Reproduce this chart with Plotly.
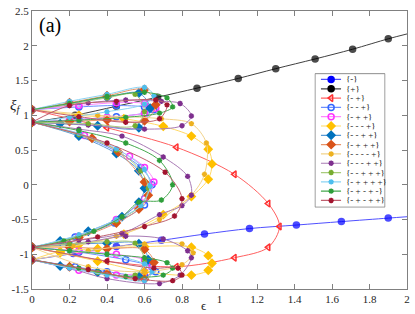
import plotly.graph_objects as go

N = None
# ---------------- data (eps, xi); None separates branches ----------------
# {-}
m_eps = [0, 0.22, 0.45, 0.69, 0.92, 1.16, 1.41, 1.65, 1.9, 2.0]
m_xi = [-1.08, -0.99, -0.89, -0.8, -0.71, -0.63, -0.58, -0.53, -0.48, -0.46]
# {+}
p_eps = [0, 0.23, 0.45, 0.67, 0.88, 1.1, 1.3, 1.51, 1.71, 1.9, 2.0]
p_xi = [0.9, 1.0, 1.13, 1.26, 1.39, 1.53, 1.67, 1.81, 1.95, 2.1, 2.17]
# {- +}
mp_eps = [0, 0.4, 0.77, 1.08, 1.26, 1.32, 1.26, 1.08, 0.77, 0.4, 0]
mp_xi = [1.08, 0.82, 0.54, 0.15, -0.27, -0.6, -0.9, -1.05, -1.18, -1.1, -0.9]
# {- - +}
mmp_eps = [0, 0.25, 0.45, 0.6, 0.65, 0.6, 0.45, 0.25, 0, N,
           0, 0.25, 0.45, 0.58, 0.64, 0.6, 0.44, 0.23, 0, N,
           0, 0.25, 0.5, 0.64, 0.66, 0.6, 0.4, 0.23, 0]
mmp_xi = [1.08, 1.12, 1.14, 1.12, 1.08, 1.03, 0.98, 0.94, 0.9, N,
          0.9, 0.72, 0.48, 0.25, 0.0, -0.29, -0.55, -0.75, -0.9, N,
          -0.9, -0.97, -1.08, -1.18, -1.25, -1.31, -1.25, -1.18, -1.08]
# {- + +}
mpp_eps = [0, 0.25, 0.45, 0.6, 0.66, 0.6, 0.4, 0.2, 0, N,
           0, 0.28, 0.52, 0.6, 0.65, 0.6, 0.45, 0.25, 0, N,
           0, 0.25, 0.45, 0.6, 0.64, 0.6, 0.45, 0.25, 0]
mpp_xi = [1.08, 1.14, 1.18, 1.17, 1.1, 1.03, 0.97, 0.93, 0.9, N,
          0.9, 0.71, 0.41, 0.25, 0.04, -0.2, -0.5, -0.74, -0.9, N,
          -0.9, -0.95, -1.0, -1.08, -1.16, -1.25, -1.3, -1.23, -1.08]
# {- - - +}
mmmp_eps = [0, 0.25, 0.49, 0.7, 0.85, 0.94, 0.96, 0.94, 0.85, 0.7, 0.49, 0.25, 0, N,
            0, 0.15, 0.35, 0.6, 0.85, 0.94, 0.96, 0.94, 0.85, 0.6, 0.35, 0.15, 0]
mmmp_xi = [1.08, 1.0, 0.95, 0.84, 0.7, 0.51, 0.3, 0.08, -0.17, -0.43, -0.71, -0.86, -0.9, N,
           -1.08, -0.96, -0.92, -0.89, -0.9, -1.02, -1.13, -1.23, -1.3, -1.25, -1.1, -0.98, -0.9]
# {- - + +}
mmpp_eps = [0, 0.2, 0.4, 0.57, 0.63, 0.57, 0.35, 0.15, 0, N,
            0, 0.25, 0.45, 0.57, 0.6, 0.57, 0.48, 0.3, 0.15, 0, N,
            0, 0.2, 0.4, 0.57, 0.62, 0.57, 0.35, 0.15, 0]
mmpp_xi = [1.08, 1.17, 1.26, 1.32, 1.1, 0.82, 0.85, 0.88, 0.9, N,
           0.9, 0.7, 0.45, 0.2, -0.05, -0.25, -0.46, -0.67, -0.81, -0.9, N,
           -0.9, -0.86, -0.84, -0.85, -1.08, -1.32, -1.26, -1.17, -1.08]
# {- + + +}
mppp_eps = [0, 0.2, 0.4, 0.6, 0.66, 0.6, 0.4, 0.2, 0, N,
            0, 0.32, 0.46, 0.6, 0.62, 0.57, 0.45, 0.25, 0, N,
            0, 0.2, 0.4, 0.6, 0.65, 0.6, 0.4, 0.2, 0]
mppp_xi = [1.08, 1.18, 1.28, 1.37, 1.15, 0.92, 0.93, 0.91, 0.9, N,
           0.9, 0.67, 0.47, 0.04, -0.15, -0.35, -0.55, -0.76, -0.9, N,
           -0.9, -0.9, -0.92, -0.93, -1.12, -1.36, -1.28, -1.18, -1.08]
# {- - - - +}
mmmmp_eps = [0, 0.35, 0.69, 0.85, 0.93, 0.92, 0.85, 0.68, 0.45, 0.22, 0, N,
             0, 0.3, 0.6, 0.8, 0.86, 0.8, 0.6, 0.3, 0]
mmmmp_xi = [1.08, 1.0, 0.95, 0.88, 0.6, 0.15, -0.15, -0.5, -0.74, -0.88, -0.9, N,
            -1.08, -0.95, -0.85, -0.85, -0.98, -1.15, -1.25, -1.18, -0.9]
# {- - - + +}
mmmpp_eps = [0, 0.3, 0.5, 0.69, 0.79, 0.85, 0.8, 0.6, 0.3, 0, N,
             0, 0.25, 0.48, 0.7, 0.83, 0.85, 0.8, 0.68, 0.48, 0.25, 0, N,
             0, 0.3, 0.5, 0.7, 0.83, 0.85, 0.79, 0.68, 0.4, 0.2, 0]
mmmpp_xi = [1.08, 1.18, 1.22, 1.2, 1.17, 0.99, 0.85, 0.8, 0.86, 0.9, N,
            0.9, 0.8, 0.7, 0.4, 0.12, -0.15, -0.3, -0.43, -0.7, -0.8, -0.9, N,
            -0.9, -0.82, -0.74, -0.78, -0.95, -1.05, -1.3, -1.42, -1.35, -1.2, -1.08]
# {- - + + +}
mmppp_eps = [0, 0.2, 0.4, 0.55, 0.6, 0.55, 0.3, 0, N,
             0, 0.25, 0.45, 0.58, 0.62, 0.58, 0.45, 0.25, 0, N,
             0, 0.2, 0.4, 0.55, 0.6, 0.55, 0.35, 0.2, 0]
mmppp_xi = [1.08, 1.16, 1.25, 1.3, 1.05, 0.85, 0.88, 0.9, N,
            0.9, 0.72, 0.5, 0.2, -0.05, -0.3, -0.52, -0.74, -0.9, N,
            -0.9, -0.85, -0.82, -0.84, -1.1, -1.3, -1.26, -1.18, -1.08]
# {- + + + +}
mpppp_eps = [0, 0.2, 0.4, 0.6, 0.65, 0.6, 0.4, 0.2, 0, N,
             0, 0.25, 0.45, 0.6, 0.63, 0.58, 0.45, 0.25, 0, N,
             0, 0.2, 0.4, 0.6, 0.64, 0.6, 0.4, 0.2, 0]
mpppp_xi = [1.08, 1.2, 1.3, 1.4, 1.28, 1.16, 1.05, 0.97, 0.9, N,
            0.9, 0.74, 0.52, 0.22, -0.02, -0.3, -0.5, -0.72, -0.9, N,
            -0.9, -0.95, -1.0, -1.14, -1.25, -1.38, -1.3, -1.2, -1.08]
# {- + - + -}
mpmpm_eps = [0, 0.2, 0.4, 0.6, 0.72, 0.75, 0.68, 0.5, 0.25, 0, N,
             0, 0.25, 0.5, 0.68, 0.75, 0.69, 0.57, 0.48, 0.33, 0.17, 0, N,
             0, 0.2, 0.4, 0.6, 0.72, 0.75, 0.7, 0.5, 0.25, 0]
mpmpm_xi = [1.08, 1.17, 1.27, 1.33, 1.25, 1.12, 1.03, 0.97, 0.93, 0.9, N,
            0.9, 0.78, 0.6, 0.35, 0.0, -0.22, -0.25, -0.46, -0.67, -0.81, -0.9, N,
            -0.9, -0.95, -1.0, -1.05, -1.12, -1.2, -1.3, -1.32, -1.2, -1.08]
# {- + - + +}
mpmpp_eps = [0, 0.25, 0.5, 0.68, 0.72, 0.66, 0.45, 0.2, 0, N,
             0, 0.4, 0.71, 0.8, 0.76, 0.6, 0.35, 0, N,
             0, 0.4, 0.65, 0.78, 0.8, 0.75, 0.55, 0.3, 0]
mpmpp_xi = [1.08, 0.98, 0.9, 0.95, 1.15, 1.22, 1.2, 1.14, 0.9, N,
            0.9, 0.6, 0.18, -0.2, -0.45, -0.6, -0.75, -0.9, N,
            -0.9, -1.1, -1.2, -1.2, -1.3, -1.38, -1.35, -1.22, -1.08]

# legend labels
labels = ["{-}", "{+}", "{- +}", "{- - +}", "{- + +}", "{- - - +}", "{- - + +}",
          "{- + + +}", "{- - - - +}", "{- - - + +}", "{- - + + +}", "{- + + + +}",
          "{- + - + -}", "{- + - + +}"]

series = [
    (m_eps, m_xi, "circle", "#0000FF", "#5050FF", 6),
    (p_eps, p_xi, "circle", "#000000", "#404040", 6),
    (mp_eps, mp_xi, "triangle-left-open", "#FF3030", "#FF6060", 6),
    (mmp_eps, mmp_xi, "circle-open", "#3366FF", "#6C8EFF", 6),
    (mpp_eps, mpp_xi, "circle-open", "#FF33FF", "#FF88FF", 6),
    (mmmp_eps, mmmp_xi, "diamond", "#FFC000", "#FFD966", 6),
    (mmpp_eps, mmpp_xi, "diamond", "#0072BD", "#5A9BD5", 6),
    (mppp_eps, mppp_xi, "diamond", "#D95319", "#E8956B", 6),
    (mmmmp_eps, mmmmp_xi, "asterisk-open", "#EDB120", "#F2D38A", 4.5),
    (mmmpp_eps, mmmpp_xi, "asterisk-open", "#7E2F8E", "#A97BB5", 4.5),
    (mmppp_eps, mmppp_xi, "asterisk-open", "#77AC30", "#A9CC7D", 4.5),
    (mpppp_eps, mpppp_xi, "asterisk-open", "#4DBEEE", "#8CD4F3", 4.5),
    (mpmpm_eps, mpmpm_xi, "asterisk-open", "#2E9E3A", "#45A84E", 4.5),
    (mpmpp_eps, mpmpp_xi, "asterisk-open", "#A2142F", "#C0606F", 4.5),
]

fig = go.Figure()
for k, (ex, xy, sym, mc, lc, ms) in enumerate(series):
    # the two open-ended branches ({-}, {+}) have no marker at the right frame edge
    sizes = [ms] * (len(ex) - 1) + [0] if k < 2 else ms
    fig.add_trace(go.Scatter(
        x=ex, y=xy, mode="lines+markers", showlegend=False,
        line=dict(color=lc, width=1, shape="spline", smoothing=0.9),
        marker=dict(symbol=sym, size=sizes, color=mc, line=dict(color=mc, width=1.5)),
        connectgaps=False, xaxis="x", yaxis="y"))

# ---------- hand-made legend on its own small subplot ----------
nrow = len(labels)
row_y = [1 - (6.0 + 9.6 * i) / 137.7 for i in range(nrow)]
fig.add_trace(go.Scatter(x=[0, 1, 1, 0, 0], y=[0, 0, 1, 1, 0], fill="toself",
                         fillcolor="white", line=dict(color="#8c8c8c", width=1),
                         mode="lines", showlegend=False, hoverinfo="skip",
                         xaxis="x2", yaxis="y2"))
for i, (ex, xy, sym, mc, lc, ms) in enumerate(series):
    fig.add_trace(go.Scatter(x=[0.084, 0.372], y=[row_y[i], row_y[i]], mode="lines",
                             line=dict(color=lc, width=1.2), showlegend=False,
                             hoverinfo="skip", xaxis="x2", yaxis="y2"))
    fig.add_trace(go.Scatter(x=[0.23], y=[row_y[i]], mode="markers",
                             marker=dict(symbol=sym, size=ms, color=mc,
                                         line=dict(color=mc, width=1.5)),
                             showlegend=False, hoverinfo="skip", xaxis="x2", yaxis="y2"))
    fig.add_annotation(x=0.41, y=row_y[i], xref="x2", yref="y2", text=labels[i],
                       showarrow=False, xanchor="left", yanchor="middle",
                       font=dict(family="Liberation Serif", size=9, color="#1a1a1a"))

axis_common = dict(showline=True, linecolor="#808080", linewidth=1, mirror="ticks",
                   ticks="inside", ticklen=5, tickcolor="#808080", showgrid=False,
                   zeroline=False, ticklabeloverflow="allow",
                   tickfont=dict(family="Liberation Serif", size=11, color="#262626"))
fig.update_layout(
    width=415, height=314,
    margin=dict(l=32, r=5, t=5, b=25),
    paper_bgcolor="white", plot_bgcolor="white",
    xaxis=dict(range=[0, 2], domain=[0, 1], tickvals=[0, 0.2, 0.4, 0.6, 0.8, 1, 1.2, 1.4, 1.6, 1.8, 2],
               ticktext=["0", "0.2", "0.4", "0.6", "0.8", "1", "1.2", "1.4", "1.6", "1.8", "2"],
               **axis_common),
    yaxis=dict(range=[-1.5, 2.5], domain=[0, 1], tickvals=[-1.5, -1, -0.5, 0, 0.5, 1, 1.5, 2, 2.5],
               ticktext=["-1.5", "-1", "-0.5", "0", "0.5", "1", "1.5", "2", "2.5"],
               **axis_common),
    xaxis2=dict(domain=[0.753, 0.943], range=[-0.01, 1.01], visible=False, anchor="y2",
                fixedrange=True),
    yaxis2=dict(domain=[0.292, 0.777], range=[-0.005, 1.005], visible=False, anchor="x2",
                fixedrange=True),
    font=dict(family="Liberation Serif"),
)

fig.add_annotation(x=0.013, y=0.947, xref="paper", yref="paper", text="(a)",
                   showarrow=False, xanchor="left", yanchor="middle",
                   font=dict(family="Liberation Serif", size=20, color="black"))
fig.add_annotation(x=-0.065, y=0.66, xref="paper", yref="paper",
                   text="<i>ξ</i><sub><i>f</i></sub>", showarrow=False,
                   font=dict(family="Liberation Serif", size=15, color="#262626"))
fig.add_annotation(x=0.458, y=-0.058, xref="paper", yref="paper", text="ϵ",
                   showarrow=False, yanchor="middle",
                   font=dict(family="Liberation Serif", size=13, color="#262626"))

fig.write_html("out.html", config={"displayModeBar": False},
               post_script="document.body.style.margin='0';document.body.style.overflow='hidden';")
